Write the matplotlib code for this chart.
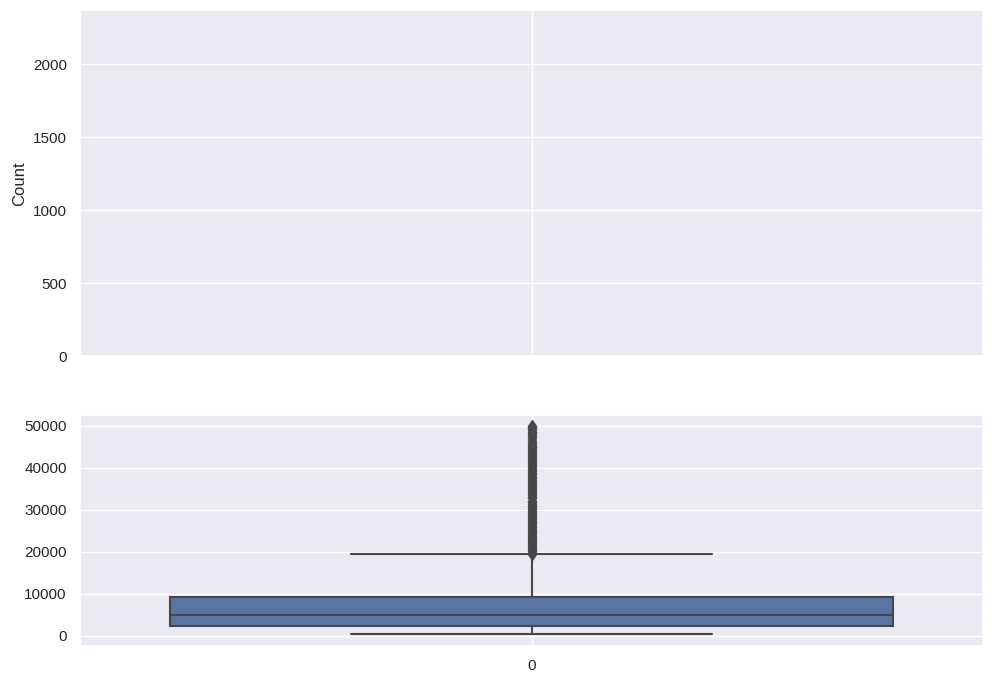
import matplotlib
matplotlib.use("Agg")
import matplotlib.pyplot as plt
import seaborn as sns

sns.set_theme(style="darkgrid")
plt.rcParams['font.family'] = ['Liberation Sans', 'DejaVu Sans']

# Box statistics
category = "0"
whisker_low = 300
q1 = 2300
median = 4900
q3 = 9200
whisker_high = 19400
# Outliers (dense column from ~19.5k up to 50k)
fliers = [19500, 19800, 20100, 20500, 20900, 21200, 21600, 22000, 22300, 22700,
          23100, 23400, 23800, 24200, 24600, 25000, 25400, 25800, 26200, 26600,
          27000, 27400, 27800, 28200, 28600, 29000, 29400, 29800, 30200, 30600,
          31000, 31400, 31800, 32200, 32700, 33100, 33500, 34000, 34400, 34800,
          35300, 35700, 36100, 36600, 37000, 37500, 37900, 38400, 38800, 39300,
          39700, 40200, 40700, 41100, 41600, 42100, 42600, 43000, 43500, 44000,
          44500, 45000, 45500, 46000, 46500, 47000, 47500, 48000, 48500, 49000,
          49400, 49800, 50000]
count_ylim_top = 2370

fig = plt.figure(figsize=(9.94, 6.83), dpi=100)
gs = fig.add_gridspec(2, 1, height_ratios=[3, 2], left=0.0805, right=0.989,
                      top=0.985, bottom=0.054, hspace=0.205)
ax_top = fig.add_subplot(gs[0])
ax_bot = fig.add_subplot(gs[1], sharex=ax_top)

gray = "#474747"
stats = [dict(med=median, q1=q1, q3=q3, whislo=whisker_low, whishi=whisker_high,
              fliers=fliers, label=category)]
ax_bot.bxp(stats, positions=[0], widths=0.8, patch_artist=True,
           boxprops=dict(facecolor="#5975a4", edgecolor=gray, linewidth=1.5),
           medianprops=dict(color=gray, linewidth=1.5),
           whiskerprops=dict(color=gray, linewidth=1.5),
           capprops=dict(color=gray, linewidth=1.5),
           flierprops=dict(marker="d", markerfacecolor=gray, markeredgecolor=gray,
                           markersize=6.5))
ax_bot.set_xlim(-0.5, 0.5)
ax_bot.set_xticks([0])
ax_bot.set_xticklabels([category])
ax_bot.set_yticks([0, 10000, 20000, 30000, 40000, 50000])
ax_bot.set_ylim(-2500, 52500)
ax_bot.tick_params(labelsize=11)

ax_top.set_ylim(0, count_ylim_top)
ax_top.set_yticks([0, 500, 1000, 1500, 2000])
ax_top.set_ylabel("Count", fontsize=12)
ax_top.tick_params(labelbottom=False, labelsize=11)

fig.savefig("out.png", dpi=100)
